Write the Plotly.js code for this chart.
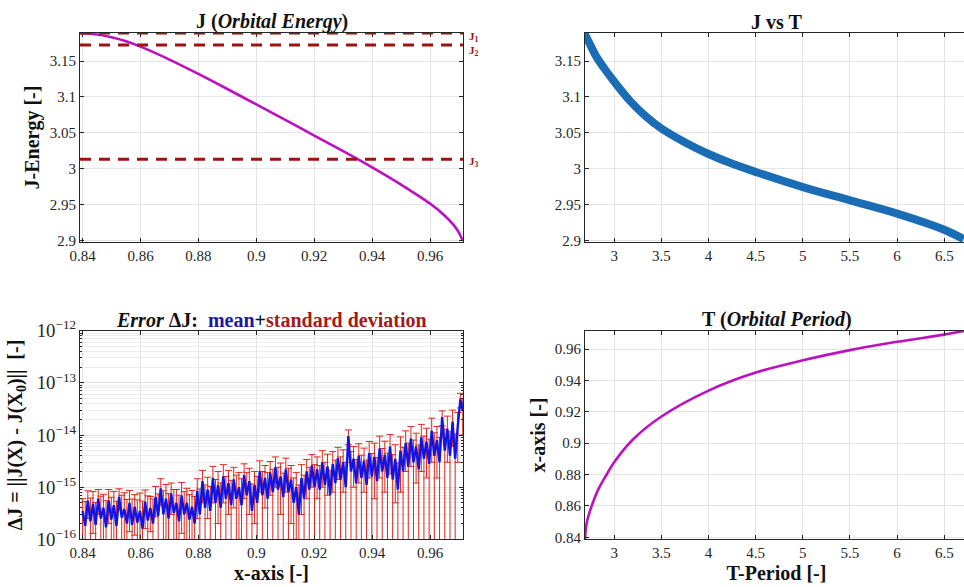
<!DOCTYPE html>
<html><head><meta charset="utf-8">
<script src="https://cdn.plot.ly/plotly-3.0.1.min.js"></script>
<style>html,body{margin:0;padding:0;overflow:hidden;background:#fff}#chart{width:970px;height:587px}</style>
</head><body><div id="chart"></div>
<script>
// ---- Panel 1: J (Orbital Energy) vs x ----
var energyX = [0.8391, 0.845, 0.85, 0.855, 0.86, 0.87, 0.88, 0.89, 0.90, 0.91, 0.92, 0.93, 0.94, 0.95, 0.955, 0.96, 0.965, 0.968, 0.970, 0.9713];
var energyJ = [3.1889, 3.1868, 3.1830, 3.1775, 3.1700, 3.1520, 3.1320, 3.1110, 3.0895, 3.0680, 3.0462, 3.0245, 3.0020, 2.9780, 2.9650, 2.9515, 2.9350, 2.9225, 2.9110, 2.8995];
var levelNames = ['J<sub>1</sub>', 'J<sub>2</sub>', 'J<sub>3</sub>'];
var levelValues = [3.1889, 3.1723, 3.0131];

// ---- Panel 2: J vs T ----
var periodT = [2.679, 2.75, 2.814, 2.9, 3.0, 3.166, 3.33, 3.5, 3.767, 4.0, 4.26, 4.5, 5.0, 5.5, 6.0, 6.5, 6.705];
var periodJ = [3.190, 3.171, 3.155, 3.1385, 3.121, 3.0945, 3.0735, 3.0560, 3.0355, 3.0205, 3.0065, 2.9955, 2.9745, 2.9560, 2.9375, 2.9150, 2.9020];

// ---- Panel 3: Error dJ (mean + standard deviation) ----
var errX = [
 0.8400,0.8409,0.8418,0.8427,0.8436,0.8445,0.8454,0.8463,0.8472,0.8481,
 0.8490,0.8499,0.8508,0.8517,0.8526,0.8535,0.8544,0.8553,0.8562,0.8571,
 0.8580,0.8589,0.8598,0.8607,0.8616,0.8625,0.8634,0.8643,0.8652,0.8661,
 0.8670,0.8679,0.8688,0.8697,0.8706,0.8715,0.8724,0.8733,0.8742,0.8751,
 0.8760,0.8769,0.8778,0.8787,0.8796,0.8805,0.8814,0.8823,0.8832,0.8841,
 0.8850,0.8859,0.8868,0.8877,0.8886,0.8895,0.8904,0.8913,0.8922,0.8931,
 0.8940,0.8949,0.8958,0.8967,0.8976,0.8985,0.8994,0.9003,0.9012,0.9021,
 0.9030,0.9039,0.9048,0.9057,0.9066,0.9075,0.9084,0.9093,0.9102,0.9111,
 0.9120,0.9129,0.9138,0.9147,0.9156,0.9165,0.9174,0.9183,0.9192,0.9201,
 0.9210,0.9219,0.9228,0.9237,0.9246,0.9255,0.9264,0.9273,0.9282,0.9291,
 0.9300,0.9309,0.9318,0.9327,0.9336,0.9345,0.9354,0.9363,0.9372,0.9381,
 0.9390,0.9399,0.9408,0.9417,0.9426,0.9435,0.9444,0.9453,0.9462,0.9471,
 0.9480,0.9489,0.9498,0.9507,0.9516,0.9525,0.9534,0.9543,0.9552,0.9561,
 0.9570,0.9579,0.9588,0.9597,0.9606,0.9615,0.9624,0.9633,0.9642,0.9651,
 0.9660,0.9669,0.9678,0.9687,0.9696,0.9705,0.9713];
var errMean = [
 3.5e-16,1.8e-16,5.5e-16,2.2e-16,4.8e-16,1.9e-16,6.0e-16,2.5e-16,4.0e-16,1.7e-16,
 5.5e-16,2.4e-16,4.5e-16,1.8e-16,6.5e-16,2.6e-16,3.8e-16,2.0e-16,5.0e-16,1.9e-16,
 4.2e-16,2.1e-16,3.5e-16,1.6e-16,5.2e-16,2.3e-16,4.0e-16,2.0e-16,6.5e-16,2.8e-16,
 9.5e-16,3.0e-16,6.0e-16,2.5e-16,7.5e-16,3.2e-16,5.0e-16,2.2e-16,6.8e-16,3.0e-16,
 5.0e-16,2.4e-16,4.2e-16,2.0e-16,8.5e-16,3.0e-16,1.3e-15,4.0e-16,9.0e-16,3.5e-16,
 1.5e-15,5.0e-16,1.1e-15,4.0e-16,1.6e-15,6.0e-16,1.2e-15,4.5e-16,1.4e-15,6.0e-16,
 1.0e-15,4.5e-16,1.7e-15,7.0e-16,1.3e-15,3.5e-16,1.1e-15,5.0e-16,2.0e-15,7.0e-16,
 1.5e-15,6.0e-16,1.9e-15,8.0e-16,2.4e-15,9.0e-16,1.6e-15,6.5e-16,2.2e-15,8.0e-16,
 1.4e-15,5.0e-16,1.0e-15,3.0e-16,1.5e-15,6.0e-16,2.0e-15,9.0e-16,2.6e-15,1.0e-15,
 2.2e-15,9.0e-16,3.0e-15,1.1e-15,2.5e-15,7.0e-16,2.8e-15,1.2e-15,3.6e-15,1.4e-15,
 3.0e-15,1.0e-15,9.5e-15,2.0e-15,3.5e-15,1.2e-15,4.0e-15,1.5e-15,3.2e-15,1.1e-15,
 4.5e-15,1.6e-15,3.8e-15,1.3e-15,5.5e-15,2.0e-15,4.2e-15,1.5e-15,6.0e-15,1.4e-15,
 3.5e-15,9.0e-16,5.0e-15,2.0e-15,7.0e-15,2.5e-15,8.5e-15,3.0e-15,6.0e-15,2.2e-15,
 9.0e-15,3.5e-15,7.5e-15,2.8e-15,1.2e-14,4.0e-15,8.0e-15,3.0e-15,2.2e-14,5.0e-15,
 1.3e-14,4.0e-15,1.8e-14,3.5e-15,1.5e-14,4.8e-14,3.0e-14];
var errStd = [
 2.5e-16,3.5e-16,3.0e-16,4.0e-16,3.5e-16,3.2e-16,3.0e-16,4.2e-16,3.3e-16,3.8e-16,
 3.5e-16,4.0e-16,3.8e-16,3.6e-16,2.8e-16,4.4e-16,4.0e-16,3.8e-16,3.6e-16,4.0e-16,
 3.0e-16,3.6e-16,4.2e-16,3.8e-16,3.6e-16,4.5e-16,2.6e-16,3.9e-16,3.8e-16,4.6e-16,
 5.0e-16,5.5e-16,5.2e-16,5.0e-16,4.5e-16,5.8e-16,4.0e-16,4.8e-16,5.5e-16,5.2e-16,
 4.5e-16,4.8e-16,4.4e-16,4.6e-16,6.0e-16,6.2e-16,8.0e-16,7.0e-16,6.5e-16,6.8e-16,
 1.0e-15,9.0e-16,9.0e-16,8.0e-16,1.1e-15,1.0e-15,9.0e-16,9.0e-16,1.0e-15,1.1e-15,
 9.0e-16,1.0e-15,1.1e-15,1.2e-15,1.0e-15,8.0e-16,9.0e-16,1.1e-15,1.2e-15,1.3e-15,
 1.1e-15,1.3e-15,1.2e-15,1.4e-15,1.4e-15,1.5e-15,1.3e-15,1.2e-15,1.4e-15,1.5e-15,
 1.2e-15,1.0e-15,9.0e-16,8.0e-16,1.2e-15,1.1e-15,1.4e-15,1.5e-15,1.6e-15,1.7e-15,
 1.6e-15,1.7e-15,2.0e-15,1.9e-15,1.8e-15,1.4e-15,2.0e-15,2.1e-15,2.2e-15,2.4e-15,
 2.2e-15,2.0e-15,3.0e-15,2.8e-15,2.5e-15,2.2e-15,2.8e-15,2.6e-15,2.4e-15,2.2e-15,
 3.0e-15,2.8e-15,3.2e-15,2.4e-15,4.0e-15,3.5e-15,3.4e-15,3.0e-15,4.2e-15,2.8e-15,
 3.0e-15,2.0e-15,4.2e-15,3.8e-15,5.0e-15,4.5e-15,6.0e-15,5.0e-15,4.8e-15,4.2e-15,
 7.0e-15,6.0e-15,6.0e-15,5.5e-15,9.0e-15,7.0e-15,6.5e-15,6.0e-15,7.0e-15,8.0e-15,
 1.0e-14,7.5e-15,1.2e-14,7.0e-15,1.2e-14,1.5e-14,2.0e-14];

// ---- Panel 4: x vs T (Orbital Period) ----
var orbitT = [2.69, 2.695, 2.71, 2.73, 2.76, 2.83, 2.919, 3.0, 3.2, 3.5, 4.0, 4.5, 5.0, 5.5, 6.0, 6.5, 6.71];
var orbitX = [0.8387, 0.844, 0.850, 0.8545, 0.860, 0.8705, 0.880, 0.888, 0.9025, 0.9170, 0.9335, 0.9450, 0.9528, 0.9593, 0.9646, 0.9692, 0.9715];

var SERIF = 'Liberation Serif';
function tf() { return {family: SERIF, size: 15, color: '#262626'}; }
function ttl() { return {family: SERIF, size: 20, color: '#111'}; }
var magenta = '#bd10c0';
var darkRed = '#9e1212';

function ax(extra) {
  var base = {
    showline: true, linecolor: '#262626', linewidth: 1, mirror: 'ticks',
    ticks: 'inside', ticklen: 4, tickcolor: '#262626',
    showgrid: true, gridcolor: '#e4e4e4', zeroline: false,
    tickfont: tf(), automargin: false
  };
  for (var k in extra) base[k] = extra[k];
  return base;
}

var W = 970, H = 587;
var xL = [80 / W, 463 / W], xR = [585 / W, 968 / W];
var yT = [1 - 242 / H, 1 - 33 / H], yB = [1 - 539.3 / H, 1 - 330.7 / H];

var traces = [
  {x: energyX, y: energyJ, xaxis: 'x', yaxis: 'y', mode: 'lines',
   line: {color: magenta, width: 2.6, shape: 'spline', smoothing: 0.8}, showlegend: false},
  {x: periodT, y: periodJ, xaxis: 'x2', yaxis: 'y2', mode: 'lines',
   line: {color: '#1a6db5', width: 8, shape: 'spline', smoothing: 1}, showlegend: false},
  {x: errX, y: errMean, xaxis: 'x3', yaxis: 'y3', mode: 'markers',
   marker: {size: 1, color: 'rgba(0,0,0,0)'},
   error_y: {type: 'data', array: errStd, visible: true, color: '#d9291f', thickness: 1, width: 3.5},
   showlegend: false},
  {x: errX, y: errMean, xaxis: 'x3', yaxis: 'y3', mode: 'lines',
   line: {color: '#1414e2', width: 2.4}, showlegend: false},
  {x: orbitT, y: orbitX, xaxis: 'x4', yaxis: 'y4', mode: 'lines',
   line: {color: magenta, width: 2.6, shape: 'spline', smoothing: 1}, showlegend: false}
];

var shapes = levelValues.map(function (v) {
  return {type: 'line', xref: 'x domain', yref: 'y', x0: 0, x1: 1, y0: v, y1: v,
          line: {color: darkRed, width: 3, dash: '11px,8px'}, layer: 'above'};
});

var annotations = [
  {text: '<b>J (<i>Orbital Energy</i>)</b>', xref: 'x domain', yref: 'y domain', x: 0.5, y: 1, yanchor: 'bottom', yshift: -2, showarrow: false, font: ttl()},
  {text: '<b>J vs T</b>', xref: 'x2 domain', yref: 'y2 domain', x: 0.5, y: 1, yanchor: 'bottom', yshift: -2, showarrow: false, font: ttl()},
  {text: '<b><i>Error</i> ΔJ:  <span style="color:#1a1a9a">mean</span>+<span style="color:#a8181a">standard deviation</span></b>', xref: 'x3 domain', yref: 'y3 domain', x: 0.5, y: 1, yanchor: 'bottom', yshift: -2, showarrow: false, font: ttl()},
  {text: '<b>T (<i>Orbital Period</i>)</b>', xref: 'x4 domain', yref: 'y4 domain', x: 0.5, y: 1, yanchor: 'bottom', yshift: -2, showarrow: false, font: ttl()}
];
var labelShift = [-4, -6, -3];
levelValues.forEach(function (v, i) {
  annotations.push({text: '<b>' + levelNames[i] + '</b>', xref: 'x domain', yref: 'y', x: 1, y: v,
    xanchor: 'left', yanchor: 'middle', xshift: 4, yshift: labelShift[i], showarrow: false,
    font: {family: SERIF, size: 11, color: darkRed}});
});

var layout = {
  width: W, height: H,
  margin: {l: 0, r: 0, t: 0, b: 0},
  paper_bgcolor: '#fff', plot_bgcolor: '#fff',
  font: {family: SERIF, color: '#262626'},
  showlegend: false,
  xaxis: ax({domain: xL, anchor: 'y', range: [0.8391, 0.9714], dtick: 0.02, tick0: 0.84}),
  yaxis: ax({domain: yT, anchor: 'x', range: [2.898, 3.189], dtick: 0.05, tick0: 2.9,
             title: {text: '<b>J-Energy [-]</b>', font: ttl(), standoff: 4}}),
  xaxis2: ax({domain: xR, anchor: 'y2', range: [2.689, 6.752], dtick: 0.5, tick0: 3}),
  yaxis2: ax({domain: yT, anchor: 'x2', range: [2.898, 3.189], dtick: 0.05, tick0: 2.9}),
  xaxis3: ax({domain: xL, anchor: 'y3', range: [0.8391, 0.9714], dtick: 0.02, tick0: 0.84,
             title: {text: '<b>x-axis [-]</b>', font: ttl(), standoff: 5}}),
  yaxis3: ax({domain: yB, anchor: 'x3', type: 'log', range: [-16, -12], dtick: 1,
             exponentformat: 'power',
             minor: {showgrid: true, gridcolor: '#ececec', ticks: 'inside', ticklen: 2, tickcolor: '#262626'},
             title: {text: '<b>ΔJ = ||J(X) - J(X<sub>0</sub>)||  [-]</b>', font: ttl(), standoff: 8}}),
  xaxis4: ax({domain: xR, anchor: 'y4', range: [2.689, 6.752], dtick: 0.5, tick0: 3,
             title: {text: '<b>T-Period [-]</b>', font: ttl(), standoff: 5}}),
  yaxis4: ax({domain: yB, anchor: 'x4', range: [0.8387, 0.9717], dtick: 0.02, tick0: 0.84,
             title: {text: '<b>x-axis [-]</b>', font: ttl(), standoff: 3}}),
  shapes: shapes,
  annotations: annotations
};

Plotly.newPlot('chart', traces, layout, {displayModeBar: false, staticPlot: true});
</script></body></html>
